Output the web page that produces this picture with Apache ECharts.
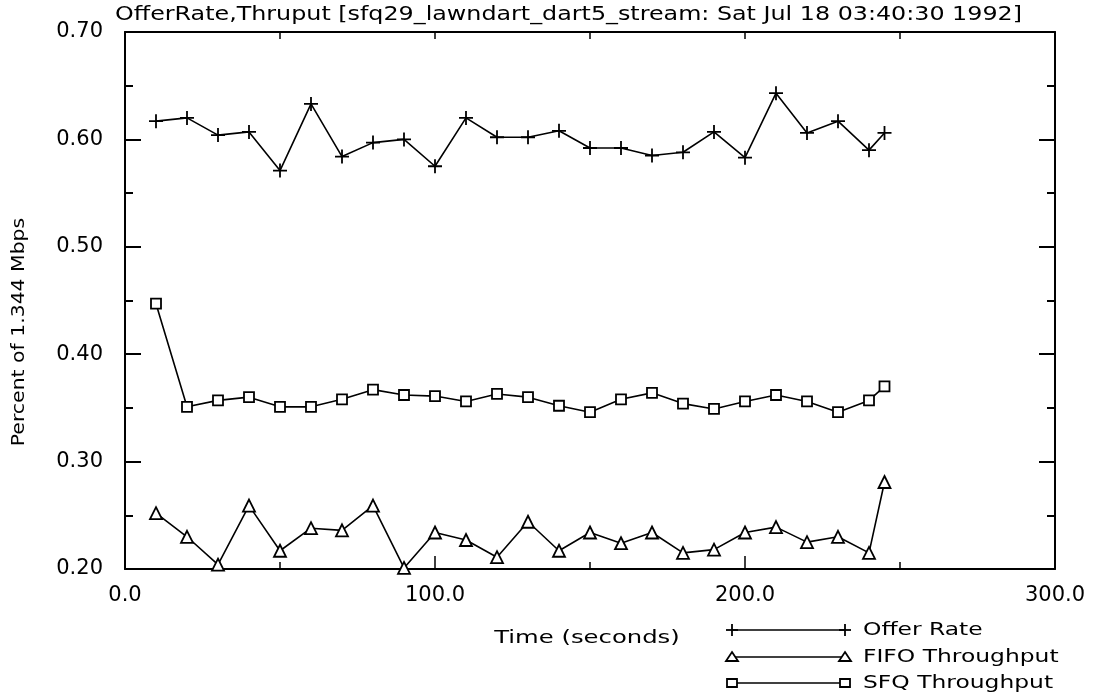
<!DOCTYPE html>
<html>
<head>
<meta charset="utf-8">
<script src="https://cdn.jsdelivr.net/npm/echarts@6/dist/echarts.min.js"></script>
<style>
  html, body { margin: 0; padding: 0; background: #fff; }
  #chart { width: 1095px; height: 698px; }
</style>
</head>
<body>
<div id="chart"></div>
<script>
// Sample times (seconds)
const times = [10, 20, 30, 40, 50, 60, 70, 80, 90, 100, 110, 120, 130, 140, 150,
               160, 170, 180, 190, 200, 210, 220, 230, 240, 245];

// Offered load, fraction of 1.344 Mbps
const offerRate = [0.617, 0.620, 0.604, 0.607, 0.571, 0.633, 0.584, 0.597, 0.600, 0.575,
                   0.620, 0.602, 0.602, 0.608, 0.592, 0.592, 0.585, 0.588, 0.607, 0.583,
                   0.643, 0.606, 0.617, 0.590, 0.606];

// Throughput under FIFO queueing
const fifoThroughput = [0.252, 0.230, 0.204, 0.259, 0.217, 0.238, 0.236, 0.259, 0.201, 0.234,
                        0.227, 0.211, 0.244, 0.217, 0.234, 0.224, 0.234, 0.215, 0.218, 0.234,
                        0.239, 0.225, 0.230, 0.215, 0.281];

// Throughput under SFQ queueing
const sfqThroughput = [0.447, 0.351, 0.357, 0.360, 0.351, 0.351, 0.358, 0.367, 0.362, 0.361,
                       0.356, 0.363, 0.360, 0.352, 0.346, 0.358, 0.364, 0.354, 0.349, 0.356,
                       0.362, 0.356, 0.346, 0.357, 0.370];

const seriesNames = ['Offer Rate', 'FIFO Throughput', 'SFQ Throughput'];
const titleText = 'OfferRate,Thruput [sfq29_lawndart_dart5_stream: Sat Jul 18 03:40:30 1992]';
const xName = 'Time (seconds)';
const yName = 'Percent of 1.344 Mbps';

const FONT = 'DejaVu Sans';
const INK = '#000';
const PLUS = 'path://M0,6 L12,6 M6,0 L6,12';
const font = size => size + 'px "' + FONT + '"';

function pairs(ys) { return times.map((t, i) => [t, ys[i]]); }

const lineSeries = (name, ys, symbol, size) => ({
  name, type: 'line', data: pairs(ys), xAxisIndex: 0, yAxisIndex: 0,
  symbol, symbolSize: size, showAllSymbol: true, animation: false,
  lineStyle: { color: INK, width: 1.6 },
  itemStyle: { color: '#fff', borderColor: INK, borderWidth: 1.8 },
  z: 3
});

// Legend sample: a line with a marker at each end, then the label
function legendRow(y, label, markerFn) {
  const x0 = 732, x1 = 845;
  return {
    type: 'group', children: [
      { type: 'line', shape: { x1: x0, y1: y, x2: x1, y2: y }, style: { stroke: INK, lineWidth: 1.6 } },
      markerFn(x0, y), markerFn(x1, y),
      { type: 'text', x: 863, y: y, scaleX: 1.3,
        style: { text: label, font: font(18), fill: INK, verticalAlign: 'middle' } }
    ]
  };
}
const plusMark = (x, y) => ({ type: 'group', children: [
  { type: 'line', shape: { x1: x - 6, y1: y, x2: x + 6, y2: y }, style: { stroke: INK, lineWidth: 1.8 } },
  { type: 'line', shape: { x1: x, y1: y - 6, x2: x, y2: y + 6 }, style: { stroke: INK, lineWidth: 1.8 } }
]});
const triMark = (x, y) => ({ type: 'polygon', shape: { points: [[x, y - 5], [x + 6, y + 4], [x - 6, y + 4]] },
  style: { fill: '#fff', stroke: INK, lineWidth: 1.8 } });
const sqMark = (x, y) => ({ type: 'rect', shape: { x: x - 5, y: y - 4, width: 10, height: 8 },
  style: { fill: '#fff', stroke: INK, lineWidth: 1.8 } });

const axisLine = { show: true, onZero: false, lineStyle: { color: INK, width: 2 } };

const option = {
  backgroundColor: '#fff',
  animation: false,
  grid: { left: 125, right: 40, top: 32, bottom: 129, containLabel: false },
  xAxis: [
    {
      type: 'value', position: 'bottom', min: 0, max: 300, interval: 100,
      axisLine, splitLine: { show: false },
      axisTick: { show: true, inside: true, length: 13, lineStyle: { color: INK, width: 1.5 } },
      minorTick: { show: true, splitNumber: 2, length: 7, lineStyle: { color: INK, width: 1.5 } },
      axisLabel: { margin: 16, fontFamily: FONT, fontSize: 21, color: INK, formatter: v => v.toFixed(1) }
    },
    {
      type: 'value', position: 'top', min: 0, max: 300, interval: 50,
      axisLine, splitLine: { show: false },
      axisTick: { show: true, inside: true, length: 7, lineStyle: { color: INK, width: 1.5 } },
      axisLabel: { show: false }
    }
  ],
  yAxis: [
    {
      type: 'value', position: 'left', min: 0.2, max: 0.7, interval: 0.1,
      axisLine, splitLine: { show: false },
      axisTick: { show: true, inside: true, length: 16, lineStyle: { color: INK, width: 2 } },
      minorTick: { show: true, splitNumber: 2, length: 8, lineStyle: { color: INK, width: 2 } },
      axisLabel: { margin: 22, fontFamily: FONT, fontSize: 21, color: INK, formatter: v => v.toFixed(2) }
    },
    {
      type: 'value', position: 'right', min: 0.2, max: 0.7, interval: 0.1,
      axisLine, splitLine: { show: false },
      axisTick: { show: true, inside: true, length: 16, lineStyle: { color: INK, width: 2 } },
      minorTick: { show: true, splitNumber: 2, length: 8, lineStyle: { color: INK, width: 2 } },
      axisLabel: { show: false }
    }
  ],
  series: [
    lineSeries(seriesNames[0], offerRate, PLUS, 14),
    lineSeries(seriesNames[1], fifoThroughput, 'triangle', 12),
    lineSeries(seriesNames[2], sfqThroughput, 'rect', 10)
  ],
  graphic: [
    // chart title
    { type: 'text', x: 115, y: 15, scaleX: 1.19,
      style: { text: titleText, font: font(20), fill: INK, verticalAlign: 'middle' } },
    // x axis caption
    { type: 'text', x: 587, y: 638, scaleX: 1.35,
      style: { text: xName, font: font(18), fill: INK, align: 'center', verticalAlign: 'middle' } },
    // y axis caption, reading upward
    { type: 'text', x: 20, y: 332, rotation: Math.PI / 2, scaleX: 1.2,
      style: { text: yName, font: font(17), fill: INK, align: 'center', verticalAlign: 'middle' } },
    legendRow(630, seriesNames[0], plusMark),
    legendRow(657, seriesNames[1], triMark),
    legendRow(683, seriesNames[2], sqMark)
  ]
};

const chart = echarts.init(document.getElementById('chart'), null, { renderer: 'canvas' });
chart.setOption(option);
</script>
</body>
</html>
